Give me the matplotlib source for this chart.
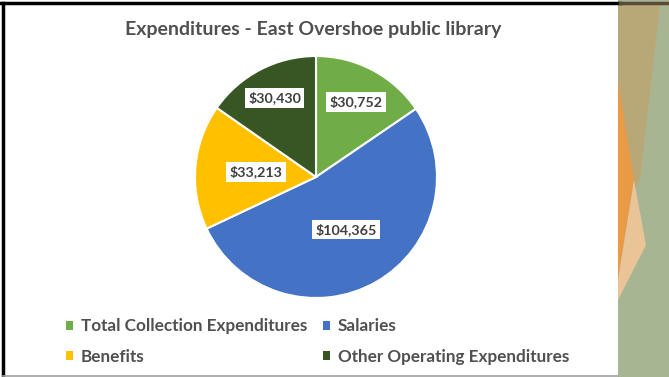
import numpy as np
import matplotlib
matplotlib.use("Agg")
import matplotlib.pyplot as plt
from matplotlib.patches import Polygon, Rectangle
from matplotlib.lines import Line2D

categories = ["Total Collection Expenditures", "Salaries", "Benefits", "Other Operating Expenditures"]
values = [30752, 104365, 33213, 30430]
label_texts = ["$30,752", "$104,365", "$33,213", "$30,430"]
colors = ["#70AD47", "#4472C4", "#FFC000", "#375623"]
label_dist = [0.70, 0.50, 0.50, 0.74]
title = "Expenditures - East Overshoe public library"

W, H = 669, 377
fig = plt.figure(figsize=(W / 100, H / 100), dpi=100)
fig.patch.set_facecolor("white")

def fx(px):
    return px / W
def fy(py):
    return 1 - py / H

# decorative right strip
strip = [
    (Polygon([(fx(618), fy(0)), (fx(669), fy(0)), (fx(669), fy(377)), (fx(618), fy(377))], closed=True), "#A8B592"),
    (Polygon([(fx(618), fy(5)), (fx(660), fy(5)), (fx(640), fy(180)), (fx(618), fy(220))], closed=True), "#B8A878"),
    (Polygon([(fx(618), fy(80)), (fx(634), fy(180)), (fx(618), fy(280))], closed=True), "#E99A45"),
    (Polygon([(fx(618), fy(280)), (fx(634), fy(180)), (fx(646), fy(245)), (fx(618), fy(300))], closed=True), "#E8C497"),
]
for p, c in strip:
    p.set_transform(fig.transFigure)
    p.set_facecolor(c)
    p.set_edgecolor("none")
    fig.patches.append(p)

# borders
fig.add_artist(Line2D([0, fx(620)], [fy(3), fy(3)], color="black", lw=2.5, transform=fig.transFigure))
fig.add_artist(Line2D([fx(620), 1], [fy(3), fy(3)], color="#5a4a3a", lw=2.5, transform=fig.transFigure))
fig.add_artist(Line2D([fx(3), fx(3)], [fy(3), 0], color="black", lw=2.5, transform=fig.transFigure))
fig.add_artist(Line2D([fx(3), fx(618)], [fy(375.5), fy(375.5)], color="#a0a0a0", lw=1.2, transform=fig.transFigure))

plt.rcParams["font.family"] = ["Lato", "DejaVu Sans"]

# pie
cx, cy, R = 316, 177, 121
ax = fig.add_axes([fx(cx - R), fy(cy + R), 2 * R / W, 2 * R / H])
wedges, _ = ax.pie(values, colors=colors, startangle=90, counterclock=False,
                   wedgeprops=dict(edgecolor="white", linewidth=1.5))
ax.set_xlim(-1, 1)
ax.set_ylim(-1, 1)
ax.set_aspect("auto")
ax.axis("off")

for w, txt, d in zip(wedges, label_texts, label_dist):
    ang = np.deg2rad((w.theta1 + w.theta2) / 2)
    ax.text(d * np.cos(ang), d * np.sin(ang), txt, ha="center", va="center",
            fontsize=10.3, fontweight="bold", color="#404040",
            bbox=dict(facecolor="white", edgecolor="none", pad=2.5))

fig.text(fx(313), fy(30), title, ha="center", va="center", fontsize=14,
         fontweight="bold", color="#505050")

# legend, row-major order (legend fills column-major)
order = [0, 2, 1, 3]
handles = [Rectangle((0, 0), 1, 1, facecolor=colors[i], edgecolor="none") for i in order]
labels = [categories[i] for i in order]
leg = fig.legend(handles, labels, loc="center", bbox_to_anchor=(fx(317.5), fy(341.5)),
                 ncol=2, frameon=False, handlelength=0.42, handleheight=0.42,
                 handletextpad=0.47, columnspacing=0.88, labelspacing=0.82,
                 prop=dict(weight="bold", size=12.3))
for t in leg.get_texts():
    t.set_color("#505050")

fig.savefig("out.png", dpi=100, facecolor="white")
